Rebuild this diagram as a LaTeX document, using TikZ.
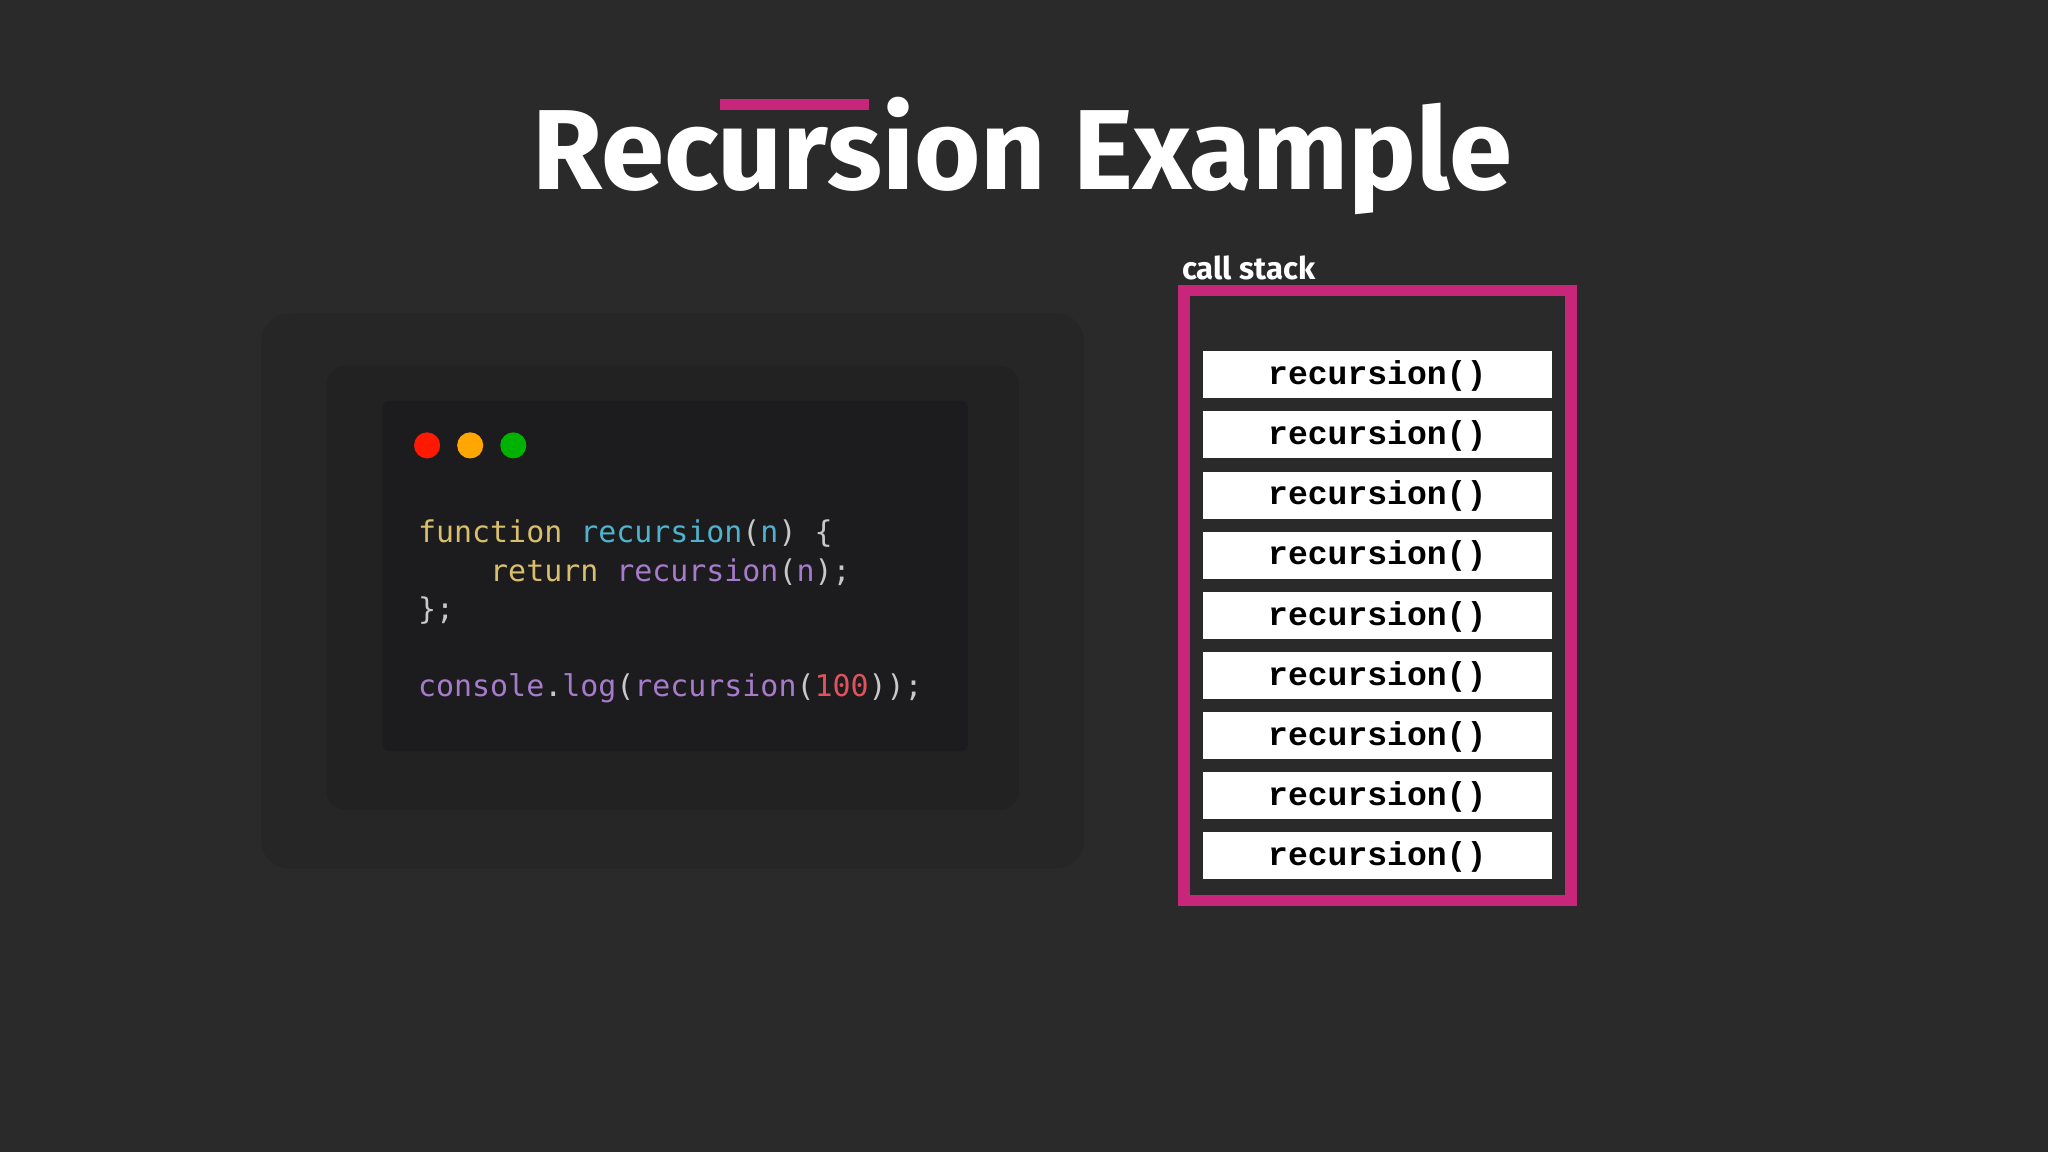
\documentclass[tikz,border=0pt]{standalone}
\usepackage{fontspec}
\setmainfont{Fira Sans}
\newfontfamily\codefont{DejaVu Sans Mono}
\newfontfamily\stackfont{Liberation Mono}
\definecolor{bg}{HTML}{2A2A2A}
\definecolor{win}{HTML}{1C1C1E}
\definecolor{pinkc}{HTML}{C8267A}
\definecolor{kw}{HTML}{D9BE6C}
\definecolor{fn}{HTML}{4FB3CE}
\definecolor{pu}{HTML}{A77BCB}
\definecolor{nu}{HTML}{E0525C}
\definecolor{pc}{HTML}{C8C8C8}
\tikzset{
 px/.style={x=0.05cm,y=-0.05cm},
 frame/.style={fill=white,draw=none},
 stxt/.style={font=\stackfont\bfseries\fontsize{36}{40}\selectfont,text=black},
 code/.style={font=\codefont\fontsize{32.6}{36}\selectfont,anchor=base west,inner sep=0}
}
\begin{document}
\begin{tikzpicture}[px]
\fill[bg] (0,0) rectangle (1568,882);
\useasboundingbox (0,0) rectangle (1568,882);
% title
\node[anchor=base,font=\bfseries\fontsize{124}{130}\selectfont,text=white,inner sep=0] (title) at (783,145) {Recursion Example};
\fill[pinkc] (551,76) rectangle (665,84);
% code window
\fill[black,opacity=0.08,rounded corners=30] (200,240) rectangle (830,665);
\fill[black,opacity=0.1,rounded corners=20] (250,280) rectangle (780,620);
\fill[win,rounded corners=6] (293,307) rectangle (741,575);
\fill[red!80!orange] (327,341) circle (10);
\fill[orange!70!yellow] (360,341) circle (10);
\fill[green!70!black] (393,341) circle (10);
\node[code] (l1) at (320,415) {\textcolor{kw}{function} \textcolor{fn}{recursion}\textcolor{pc}{(}\textcolor{fn}{n}\textcolor{pc}{) \{}};
\node[code] (l2) at (320,445) {\textcolor{kw}{\ \ \ \ return} \textcolor{pu}{recursion}\textcolor{pc}{(}\textcolor{pu}{n}\textcolor{pc}{);}};
\node[code] (l3) at (320,474) {\textcolor{pc}{\};}};
\node[code] (l4) at (320,533) {\textcolor{pu}{console}\textcolor{pc}{.}\textcolor{pu}{log}\textcolor{pc}{(}\textcolor{pu}{recursion}\textcolor{pc}{(}\textcolor{nu}{100}\textcolor{pc}{));}};
% call stack
\node[anchor=base west,font=\bfseries\fontsize{34}{36}\selectfont,text=white,inner sep=0] (cs) at (905,214) {call stack};
\draw[pinkc,line width=9*0.05cm] (906.5,222.5) rectangle (1202.5,689.5);
\foreach \i in {0,...,8}{
  \fill[white] (921,269+46*\i) rectangle (1188,305+46*\i);
  \node[stxt] (s\i) at (1054.5,288+46*\i) {recursion()};
}
\end{tikzpicture}
\end{document}
